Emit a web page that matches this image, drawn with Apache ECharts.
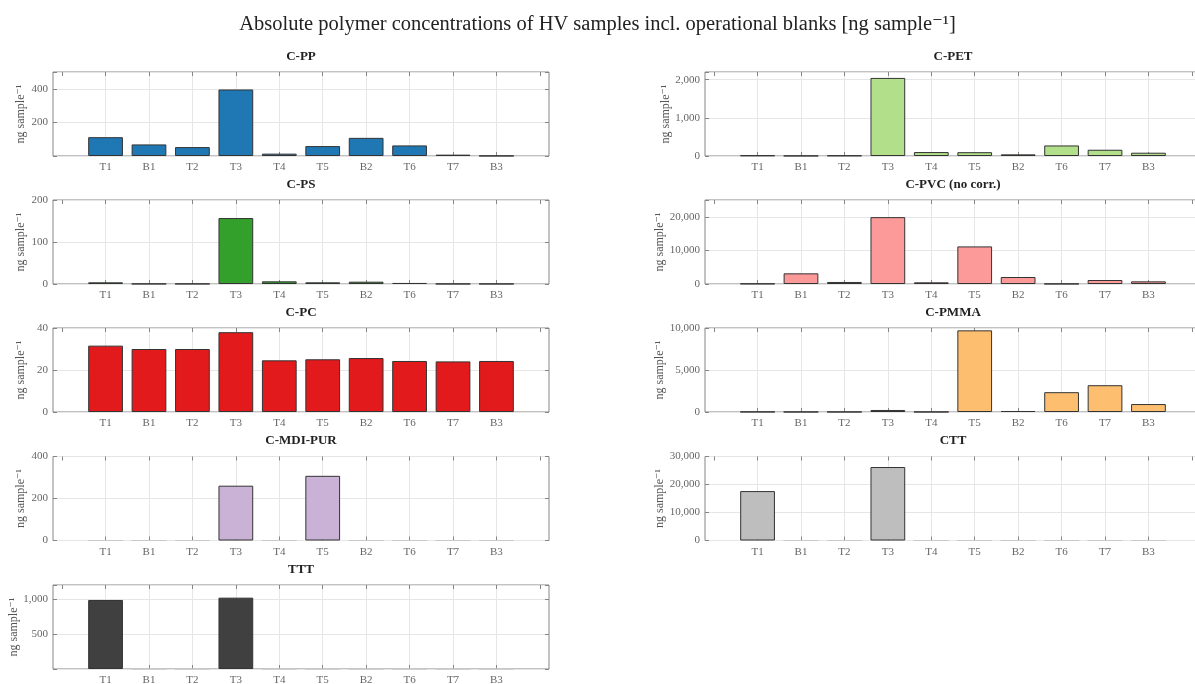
<!DOCTYPE html>
<html>
<head>
<meta charset="utf-8">
<script src="https://cdn.jsdelivr.net/npm/echarts@6/dist/echarts.min.js"></script>
<style>html,body{margin:0;padding:0;background:#fff}#c{width:1195px;height:684px}</style>
</head>
<body>
<div id="c"></div>
<script>
// ---- data ----
const categories = ['T1','B1','T2','T3','T4','T5','B2','T6','T7','B3'];

const panelNames = ['C-PP','C-PS','C-PC','C-MDI-PUR','TTT','C-PET','C-PVC (no corr.)','C-PMMA','CTT'];

const cPP     = [112, 69, 53, 396, 14, 59, 108, 63, 8, 1];
const cPS     = [4, 0.5, 0.5, 157, 6.3, 4, 5.5, 2.5, 0.3, 0.3];
const cPC     = [31.6, 30.0, 30.0, 38.0, 24.6, 25.1, 25.7, 24.3, 24.1, 24.3];
const cMDIPUR = [0, 0, 0, 261, 0, 308, 0, 0, 0, 0];
const tTT     = [986, 0, 0, 1019, 0, 0, 0, 0, 0, 0];
const cPET    = [15, 5, 12, 2045, 103, 100, 43, 276, 164, 86];
const cPVC    = [100, 3170, 600, 19900, 500, 11190, 2080, 50, 1190, 790];
const cPMMA   = [20, 10, 10, 240, 10, 9720, 120, 2360, 3190, 945];
const cTT     = [17650, 0, 0, 26240, 0, 0, 0, 0, 0, 0];

// y tick labels shown per panel, and axis upper limits
const ticksPP     = [200, 400];
const ticksPS     = [0, 100, 200];
const ticksPC     = [0, 20, 40];
const ticksMDIPUR = [0, 200, 400];
const ticksTTT    = [500, 1000];
const ticksPET    = [0, 1000, 2000];
const ticksPVC    = [0, 10000, 20000];
const ticksPMMA   = [0, 5000, 10000];
const ticksCTT    = [0, 10000, 20000, 30000];

const yMax = [500, 200, 40, 400, 1200, 2200, 25000, 10000, 30000];
const yStep = [200, 100, 20, 200, 500, 1000, 10000, 5000, 10000];

// ---- styling ----
const panelData  = [cPP, cPS, cPC, cMDIPUR, tTT, cPET, cPVC, cPMMA, cTT];
const panelTicks = [ticksPP, ticksPS, ticksPC, ticksMDIPUR, ticksTTT, ticksPET, ticksPVC, ticksPMMA, ticksCTT];
const colors = ['#1f78b4','#33a02c','#e31a1c','#cab2d6','#404040','#b2df8a','#fb9a99','#fdbf6f','#bebebe'];

const FONT = '"Liberation Serif", "DejaVu Serif", serif';
const colL = [53, 705];
const W = 496, H = 84;
const rowTop = [72, 200, 328, 456.5, 585];
const spacing = W / 11.42;
const pad = 0.21 * spacing;

const fmt = v => v.toLocaleString('en-US');

const grid = [], xAxis = [], yAxis = [], series = [];
panelNames.forEach((name, p) => {
  const col = p < 5 ? 0 : 1;
  const row = p < 5 ? p : p - 5;
  const L = colL[col], T = rowTop[row];
  const fg = grid.length;
  grid.push({left: L, top: T, width: W, height: H, outerBoundsMode: 'none', containLabel: false,
    show: true, borderColor: '#858585', borderWidth: 1, backgroundColor: '#fff'});
  const dg = grid.length;
  grid.push({left: L + pad, top: T, width: W - 2 * pad, height: H, outerBoundsMode: 'none', containLabel: false});
  const tk = panelTicks[p];
  // frame axes
  xAxis.push({gridIndex: fg, type: 'value', min: 0, max: 1, position: 'top',
    axisLine: {show: false}, axisTick: {show: false}, axisLabel: {show: false}, splitLine: {show: false},
    name: name, nameLocation: 'middle', nameGap: 9,
    nameTextStyle: {fontFamily: FONT, fontWeight: 'bold', fontSize: 13, color: '#222'}});
  yAxis.push({gridIndex: fg, type: 'value', min: 0, max: yMax[p], interval: yStep[p],
    axisLine: {show: false},
    axisTick: {show: true, inside: true, length: 4, lineStyle: {color: '#858585'}},
    axisLabel: {fontFamily: FONT, fontSize: 11, color: '#666', margin: 5,
      formatter: v => tk.indexOf(v) >= 0 ? fmt(v) : ''},
    splitLine: {show: true, lineStyle: {color: '#e6e6e6', width: 1}},
    name: 'ng sample\u207B\u00B9', nameLocation: 'middle', nameGap: 26,
    nameTextStyle: {fontFamily: FONT, fontSize: 12, color: '#555'}});
  yAxis.push({gridIndex: fg, type: 'value', min: 0, max: yMax[p], interval: yStep[p], position: 'right',
    axisLine: {show: false},
    axisTick: {show: true, inside: true, length: 4, lineStyle: {color: '#858585'}},
    axisLabel: {show: false}, splitLine: {show: false}});
  // data axes
  const xb = xAxis.length;
  xAxis.push({gridIndex: dg, type: 'value', min: 0, max: 11, interval: 1, position: 'bottom',
    axisLine: {show: false},
    axisTick: {show: true, inside: true, length: 4, lineStyle: {color: '#858585'}},
    axisLabel: {fontFamily: FONT, fontSize: 11, color: '#666', margin: 6, showMinLabel: false, showMaxLabel: false,
      formatter: v => (v >= 1 && v <= categories.length) ? categories[v - 1] : ''},
    splitLine: {show: true, showMinLine: false, showMaxLine: false, lineStyle: {color: '#e6e6e6', width: 1}}});
  xAxis.push({gridIndex: dg, type: 'value', min: 0, max: 11, interval: 1, position: 'top',
    axisLine: {show: false},
    axisTick: {show: true, inside: true, length: 4, lineStyle: {color: '#858585'}},
    axisLabel: {show: false}, splitLine: {show: false}});
  const yd = yAxis.length;
  yAxis.push({gridIndex: dg, type: 'value', min: 0, max: yMax[p], show: false, splitLine: {show: false}});
  series.push({type: 'bar', xAxisIndex: xb, yAxisIndex: yd, barWidth: '80%',
    data: panelData[p].map((v, i) => ({
      value: [i + 1, v],
      itemStyle: v === 0 ? {borderColor: '#c8c8c8'} : undefined
    })),
    itemStyle: {color: colors[p], borderColor: '#333', borderWidth: 1},
    silent: true, z: 5});
});

const chart = echarts.init(document.getElementById('c'), null, {renderer: 'canvas'});
chart.setOption({
  animation: false,
  backgroundColor: '#fff',
  title: {text: 'Absolute polymer concentrations of HV samples incl. operational blanks [ng sample\u207B\u00B9]',
    left: 'center', top: 9, textStyle: {fontFamily: FONT, fontWeight: 'normal', fontSize: 20.5, color: '#222'}},
  grid, xAxis, yAxis, series
});
</script>
</body>
</html>
